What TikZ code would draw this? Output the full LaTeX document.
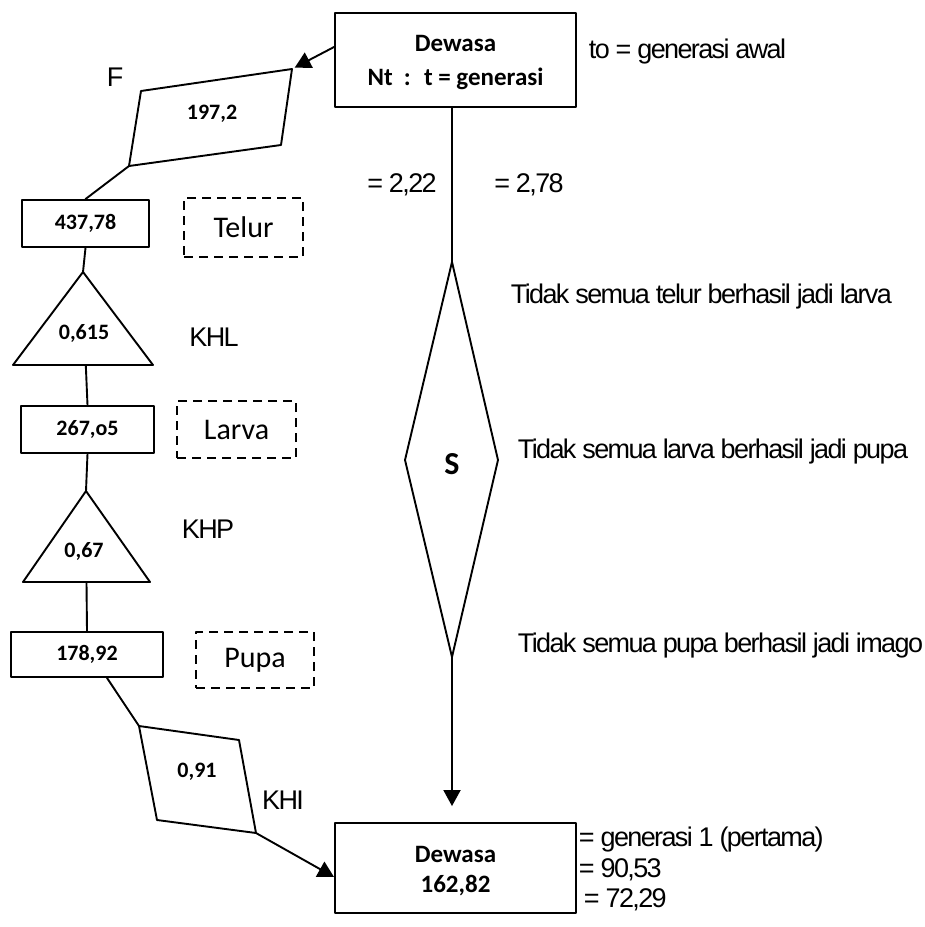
\documentclass[tikz,border=0pt]{standalone}
\usepackage{fontspec}
\usepackage{tikz,tkz-euclide}
\usetikzlibrary{arrows.meta,calc}
\setmainfont{Carlito}
\newfontfamily\arialtight{Liberation Sans}[LetterSpace=-6]
\tikzset{
  numbox/.style={draw, inner sep=0pt, font=\bfseries\fontsize{22}{26}\selectfont},
  stagebox/.style={draw, dash pattern=on 9pt off 6pt, line cap=butt, inner sep=0pt, font=\fontsize{30}{34}\selectfont},
  bigtext/.style={font=\bfseries\fontsize{25}{29}\selectfont, inner sep=0pt},
  note/.style={font=\arialtight\fontsize{27}{31}\selectfont, inner sep=0pt},
}
\begin{document}
\begin{tikzpicture}[x=1pt, y=-1pt, >={Triangle[length=16pt,width=17pt]}, line width=1.9pt, line join=round, line cap=round]
	\useasboundingbox (0,0) rectangle (925,927);
	\tkzDefPoints{141/91/F1, 292/69/F2, 281/145/F3, 129/166/F4}
	\tkzDefPoints{83/272/L1, 13/365/L2, 153/365/L3, 86/491/P1, 23/582/P2, 150/582/P3}
	\tkzDefPoints{139/726/I1, 239/740/I2, 256/833/I3, 157/820/I4}
	\tkzDefPoints{452/262/S1, 498/460/S2, 452/657/S3, 405/460/S4}
	\tkzDrawPolygon[line width=1.9pt](F1,F2,F3,F4)
	\tkzDrawPolygon[line width=1.9pt](L1,L2,L3)
	\tkzDrawPolygon[line width=1.9pt](P1,P2,P3)
	\tkzDrawPolygon[line width=1.9pt](I1,I2,I3,I4)
	\tkzDrawPolygon[line width=1.9pt](S1,S2,S3,S4)
	% kotak dewasa
	\node[numbox, minimum width=241pt, minimum height=94pt] (Dt) at (455.5,60) {};
	\node[bigtext] (Dt1) at (455.5,43) {Dewasa};
	\node[bigtext] (Dt2) at (455.5,79) {Nt \ : \ t = generasi};
	\node[numbox, minimum width=241pt, minimum height=90pt] (Db) at (455.5,868) {};
	\node[bigtext] (Db1) at (455.5,854) {Dewasa};
	\node[bigtext] (Db2) at (455.5,886) {162,82};
	% kotak angka
	\node[numbox, minimum width=127pt, minimum height=47pt] (T) at (85.5,223.5) {437,78};
	\node[numbox, minimum width=133pt, minimum height=47pt] (La) at (87.5,429.5) {267,o5};
	\node[numbox, minimum width=152pt, minimum height=45pt] (Pu) at (87,654.5) {178,92};
	\node[stagebox, minimum width=119pt, minimum height=59pt] (Ts) at (243.5,227.5) {Telur};
	\node[stagebox, minimum width=119pt, minimum height=57pt] (Ls) at (236.5,429.5) {Larva};
	\node[stagebox, minimum width=118pt, minimum height=56pt] (Ps) at (255,660) {Pupa};
	% isi bentuk
	\node[numbox, draw=none] (Fv) at (212,114) {197,2};
	\node[numbox, draw=none] (Lv) at (84,333) {0,615};
	\node[numbox, draw=none] (Pv) at (84,551) {0,67};
	\node[numbox, draw=none] (Iv) at (197,772) {0,91};
	\node[bigtext, font=\bfseries\fontsize{32}{36}\selectfont] (Sv) at (452,464) {S};
	% garis
	\draw[->, shorten >=3pt] ($(Dt.west)+(0,-13)$) -- (F2);
	\draw (F4) -- (T.north);
	\draw (T.south) -- (L1);
	\draw ($(L2)!0.52!(L3)$) -- (La.north);
	\draw (La.south) -- (P1);
	\draw ($(P2)!0.5!(P3)$) -- (Pu.north);
	\draw ($(Pu.south west)!0.63!(Pu.south east)$) -- (I1);
	\draw[->] (I3) -- ($(Db.west)+(0,9)$);
	\draw (S1 |- Dt.south) -- (S1);
	\draw[->, shorten >=16pt] (S3) -- (S3 |- Db.north);
	% keterangan
	\node[note] (F) at (115,77) {F};
	\node[note] (KHL) at (214,337) {KHL};
	\node[note] (KHP) at (208,529) {KHP};
	\node[note] (KHI) at (283,800) {KHI};
	\node[note] (r1) at (402,185) {= 2,22};
	\node[note] (r2) at (529,185) {= 2,78};
	\node[note, anchor=west] (to) at (588,52) {to = generasi awal};
	\node[note, anchor=west] (n1) at (510,297) {Tidak semua telur berhasil jadi larva};
	\node[note, anchor=west] (n2) at (517,452) {Tidak semua larva berhasil jadi pupa};
	\node[note, anchor=west] (n3) at (517,646) {Tidak semua pupa berhasil jadi imago};
	\node[note, anchor=west] (g1) at (578,840) {= generasi 1 (pertama)};
	\node[note, anchor=west] (g2) at (578,870) {= 90,53};
	\node[note, anchor=west] (g3) at (583,900) {= 72,29};
\end{tikzpicture}
\end{document}
